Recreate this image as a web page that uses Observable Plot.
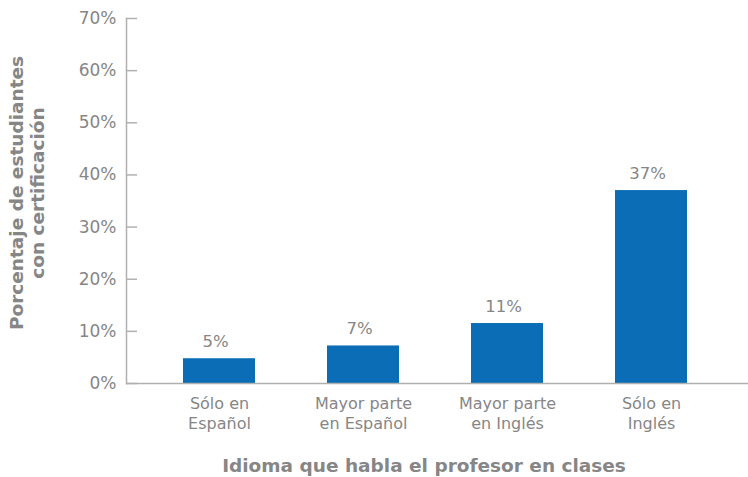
<!DOCTYPE html>
<html>
<head>
<meta charset="utf-8">
<script src="https://cdn.jsdelivr.net/npm/d3@7"></script>
<script src="https://cdn.jsdelivr.net/npm/@observablehq/plot@0.6"></script>
<style>
  html, body { margin: 0; padding: 0; background: #fff; }
  svg { display: block; }
</style>
</head>
<body>
<div id="chart"></div>
<script>
const categories = ["Sólo en Español", "Mayor parte en Español", "Mayor parte en Inglés", "Sólo en Inglés"];
const tickLabels = ["Sólo en\nEspañol", "Mayor parte\nen Español", "Mayor parte\nen Inglés", "Sólo en\nInglés"];
const values = [4.75, 7.2, 11.5, 37.0];
const valueLabels = ["5%", "7%", "11%", "37%"];
const yTicks = [0, 10, 20, 30, 40, 50, 60, 70];
const yTitle = "Porcentaje de estudiantes\ncon certificación";
const xTitle = "Idioma que habla el profesor en clases";

const data = categories.map((c, i) => ({cat: c, value: values[i], label: valueLabels[i]}));

const width = 748, height = 477;
const marginLeft = 126, marginRight = 5, marginTop = 18, marginBottom = 94;
const plotW = width - marginLeft - marginRight;
const textColor = "#868686";
const axisColor = "#b0b0b0";
const font = "DejaVu Sans, Verdana, sans-serif";

const chart = Plot.plot({
  width, height, marginLeft, marginRight, marginTop, marginBottom,
  style: {fontFamily: font, fontSize: "16px", color: textColor, background: "#fff"},
  x: {domain: categories, paddingInner: 0.5, paddingOuter: 0.385, axis: null},
  y: {domain: [0, 70], axis: null},
  marks: [
    Plot.barY(data, {x: "cat", y: "value", fill: "#0a6db5"}),
    Plot.text(data, {x: "cat", y: "value", text: "label", lineAnchor: "bottom", dy: -12, dx: -4, fill: textColor, fontSize: 16.5}),
    Plot.tickY(yTicks, {y: d => d, stroke: axisColor, strokeWidth: 1.5, insetRight: plotW - 11}),
    Plot.axisY({ticks: yTicks, tickSize: 0, tickPadding: 10, tickFormat: d => d + "%", label: null, fill: textColor, fontSize: 17}),
    Plot.axisX({tickSize: 0, tickPadding: 11, tickFormat: d => tickLabels[categories.indexOf(d)], label: null, fill: textColor, fontSize: 16, lineHeight: 1.25, lineAnchor: "top"}),
    Plot.frame({anchor: "left", stroke: axisColor, strokeWidth: 1.5}),
    Plot.ruleY([0], {stroke: axisColor, strokeWidth: 1.5, insetRight: -5}),
    Plot.text([yTitle], {text: d => d, frameAnchor: "left", textAnchor: "middle", lineAnchor: "middle", rotate: -90, dx: -100, dy: -8, lineHeight: 1.15, fontWeight: "bold", fontSize: 18.5, fill: textColor}),
    Plot.text([xTitle], {text: d => d, frameAnchor: "bottom", textAnchor: "middle", lineAnchor: "middle", dy: 83, dx: -11, fontWeight: "bold", fontSize: 18.5, fill: textColor})
  ]
});
document.getElementById("chart").appendChild(chart);
</script>
</body>
</html>
